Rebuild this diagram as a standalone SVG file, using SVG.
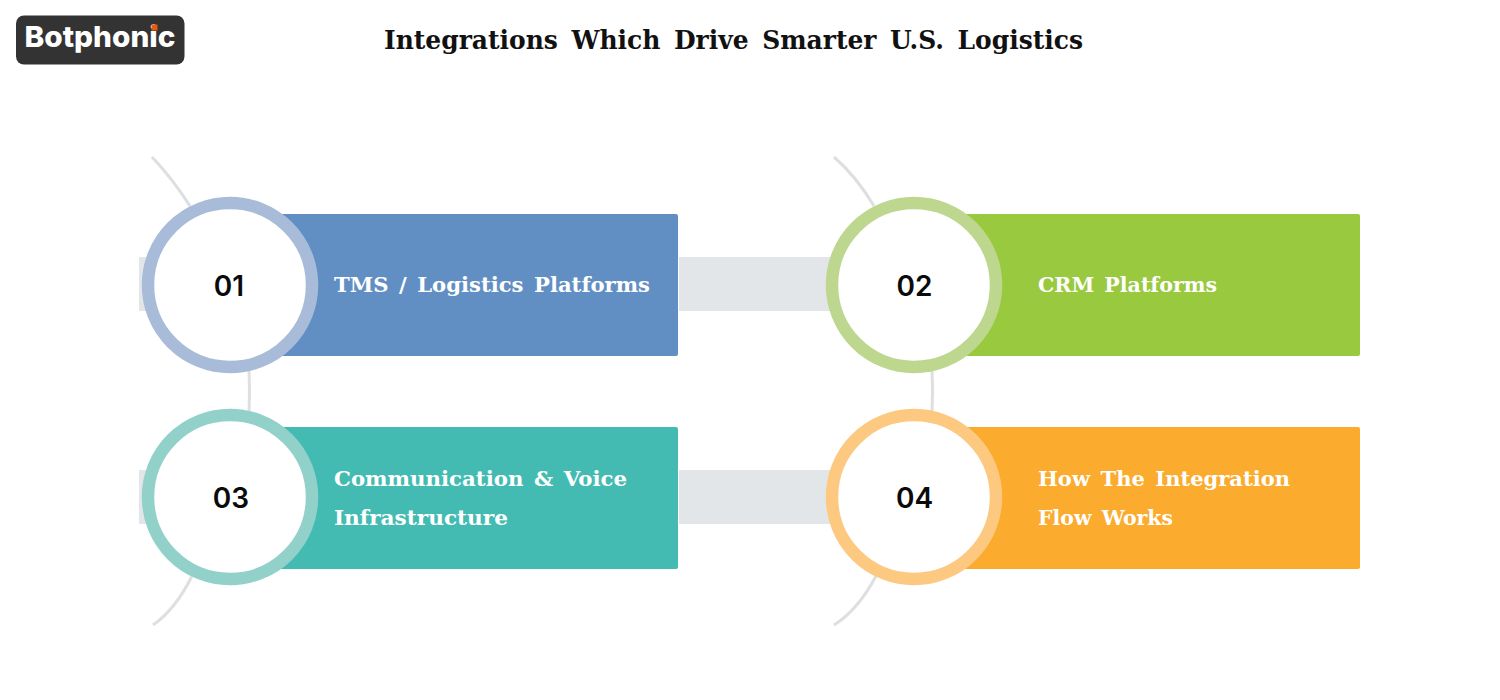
<svg xmlns="http://www.w3.org/2000/svg" width="1500" height="700" viewBox="0 0 1500 700">
<style>
.bar{fill:#e3e6e9}
.arc{fill:none;stroke:#dedfe1;stroke-width:3}
.disc{fill:#fff;stroke-width:12.5}
.num{font-family:Inter,"Liberation Sans",sans-serif;font-size:28px;font-weight:600;fill:#0a0a0a;text-anchor:middle}
.lbl{font-family:"DejaVu Serif",serif;font-size:20px;font-weight:700;fill:#fff;word-spacing:3px}
.title{font-family:"DejaVu Serif",serif;font-size:26px;font-weight:700;fill:#111;word-spacing:5px}
</style>
<rect width="1500" height="700" fill="#fff"/>
<g id="logo">
<rect x="16" y="15.500" width="168.500" height="49" rx="8" fill="#333"/>
<text x="24.500" y="47" font-family="Inter,'Liberation Sans',sans-serif" font-size="29" font-weight="800" fill="#fff" textLength="151" lengthAdjust="spacingAndGlyphs">Botphonic</text>
<rect x="151.500" y="24.500" width="6" height="6" fill="#e8590c"/>
</g>
<text id="title" class="title" x="384" y="49" textLength="699" lengthAdjust="spacingAndGlyphs">Integrations Which Drive Smarter U.S. Logistics</text>
<g id="connectors">
<rect class="bar" x="139" y="257" width="20" height="54"/>
<rect class="bar" x="139" y="470" width="20" height="54"/>
<rect class="bar" x="679" y="257" width="160" height="54"/>
<rect class="bar" x="679" y="470" width="160" height="54"/>
<path class="arc" d="M152 157Q172 178 190 206"/>
<path class="arc" d="M834 157Q856 176 874 206"/>
<path class="arc" d="M249 368Q250 390 249 414"/>
<path class="arc" d="M932 368Q933 390 932 414"/>
<path class="arc" d="M153 625Q175 610 192 576"/>
<path class="arc" d="M834 625Q858 610 876 576"/>
</g>
<g id="node-01">
<rect x="270" y="214" width="408" height="142" rx="2" fill="#628fc3"/>
<circle class="disc" cx="230" cy="285" r="82" stroke="#a8bcd9"/>
<text class="num" x="229" y="296">01</text>
<text class="lbl" x="334" y="292" textLength="316" lengthAdjust="spacingAndGlyphs">TMS / Logistics Platforms</text>
</g>
<g id="node-02">
<rect x="954" y="214" width="406" height="142" rx="2" fill="#99c93f"/>
<circle class="disc" cx="914" cy="285" r="82" stroke="#bdd88e"/>
<text class="num" x="914.500" y="296">02</text>
<text class="lbl" x="1038" y="292" textLength="179" lengthAdjust="spacingAndGlyphs">CRM Platforms</text>
</g>
<g id="node-03">
<rect x="270" y="427" width="408" height="142" rx="2" fill="#44bbb2"/>
<circle class="disc" cx="230" cy="497" r="82" stroke="#92d1ca"/>
<text class="num" x="231" y="508">03</text>
<text class="lbl" x="334" y="486" textLength="293" lengthAdjust="spacingAndGlyphs">Communication &amp; Voice</text>
<text class="lbl" x="334" y="525" textLength="174" lengthAdjust="spacingAndGlyphs">Infrastructure</text>
</g>
<g id="node-04">
<rect x="954" y="427" width="406" height="142" rx="2" fill="#fbab2d"/>
<circle class="disc" cx="914" cy="497" r="82" stroke="#fdc981"/>
<text class="num" x="914.500" y="508">04</text>
<text class="lbl" x="1038" y="486" textLength="252" lengthAdjust="spacingAndGlyphs">How The Integration</text>
<text class="lbl" x="1038" y="525" textLength="135" lengthAdjust="spacingAndGlyphs">Flow Works</text>
</g>
</svg>
